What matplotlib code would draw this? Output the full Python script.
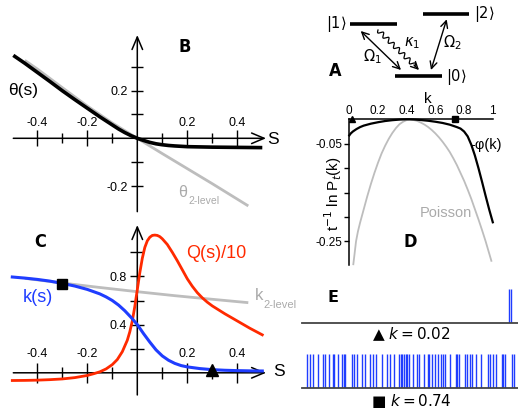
import numpy as np
import matplotlib
matplotlib.use("Agg")
import matplotlib.pyplot as plt
from matplotlib import font_manager

plt.rcParams['font.family'] = ['Liberation Sans', 'DejaVu Sans']
plt.rcParams['axes.unicode_minus'] = False
plt.rcParams['mathtext.fontset'] = 'dejavusans'

# ---------------- data ----------------
# Panel B: theta(s)
s_theta = [-0.496, -0.45, -0.4, -0.35, -0.3, -0.25, -0.2, -0.15, -0.1, -0.075, -0.05,
           -0.025, 0.0, 0.025, 0.05, 0.075, 0.1, 0.125, 0.15, 0.2, 0.25, 0.3, 0.4, 0.5]
theta = [0.347, 0.314, 0.276, 0.238, 0.199, 0.162, 0.126, 0.09, 0.056, 0.039, 0.024,
         0.011, 0.0, -0.009, -0.017, -0.023, -0.027, -0.03, -0.032, -0.035, -0.036,
         -0.037, -0.038, -0.039]
s_theta2 = [-0.45, -0.4, -0.3, -0.2, -0.1, 0.0, 0.1, 0.2, 0.3, 0.444]
theta2 = [0.326, 0.29, 0.212, 0.135, 0.064, 0.0, -0.064, -0.127, -0.19, -0.283]

# Panel C: k(s), k_2-level(s), Q(s)/10
s_k = [-0.5, -0.45, -0.4, -0.35, -0.3, -0.25, -0.2, -0.15, -0.125, -0.1, -0.075, -0.05,
       -0.025, 0.0, 0.025, 0.05, 0.075, 0.1, 0.125, 0.15, 0.175, 0.2, 0.25, 0.3, 0.35,
       0.4, 0.45, 0.5]
k_s = [0.795, 0.786, 0.775, 0.761, 0.742, 0.72, 0.692, 0.655, 0.63, 0.6, 0.562, 0.515,
       0.46, 0.40, 0.325, 0.255, 0.19, 0.14, 0.104, 0.078, 0.06, 0.049, 0.035, 0.026,
       0.021, 0.018, 0.016, 0.015]
s_k2 = [-0.45, -0.3, -0.15, 0.0, 0.15, 0.3, 0.444]
k2 = [0.784, 0.745, 0.708, 0.673, 0.64, 0.61, 0.582]
s_q = [-0.5, -0.45, -0.4, -0.35, -0.3, -0.25, -0.2, -0.175, -0.15, -0.125, -0.1, -0.08,
       -0.06, -0.04, -0.03, -0.02, -0.01, 0.0, 0.01, 0.02, 0.03, 0.04, 0.05, 0.06, 0.07,
       0.08, 0.09, 0.1, 0.12, 0.14, 0.16, 0.18, 0.2, 0.22, 0.24, 0.26, 0.28, 0.3, 0.35,
       0.4, 0.45, 0.5]
q_s = [-0.064, -0.063, -0.061, -0.057, -0.051, -0.04, -0.022, -0.008, 0.008, 0.032,
       0.068, 0.11, 0.175, 0.27, 0.34, 0.43, 0.55, 0.69, 0.83, 0.95, 1.04, 1.095, 1.125,
       1.14, 1.143, 1.14, 1.13, 1.112, 1.065, 1.0, 0.93, 0.855, 0.78, 0.718, 0.665, 0.622,
       0.586, 0.555, 0.49, 0.43, 0.37, 0.315]
sq_s, sq_k = [-0.3], [0.74]
tri_s, tri_k = [0.3], [0.026]

# Panel D: -phi(k) and Poisson
k_phi = [0.0, 0.01, 0.025, 0.05, 0.075, 0.1, 0.15, 0.2, 0.25, 0.3, 0.35, 0.4, 0.45,
         0.5, 0.55, 0.6, 0.65, 0.7, 0.725, 0.75, 0.775, 0.8, 0.825, 0.85, 0.875, 0.9,
         0.925, 0.95, 0.975, 1.0]
phi = [-0.033, -0.029, -0.025, -0.02, -0.016, -0.013, -0.009, -0.006, -0.0035, -0.0018,
       -0.0006, 0.0, -0.0004, -0.0015, -0.003, -0.005, -0.0075, -0.011, -0.0135, -0.016,
       -0.019, -0.025, -0.035, -0.052, -0.074, -0.1, -0.128, -0.157, -0.185, -0.211]
k_pois = [0.028, 0.035, 0.047, 0.06, 0.075, 0.1, 0.125, 0.15, 0.175, 0.2, 0.225, 0.25,
          0.275, 0.3, 0.325, 0.35, 0.375, 0.4, 0.42, 0.44, 0.47, 0.5, 0.525, 0.55, 0.575,
          0.6, 0.625, 0.65, 0.675, 0.7, 0.725, 0.75, 0.775, 0.8, 0.825, 0.85, 0.875, 0.9,
          0.925, 0.95, 0.97, 0.99]
pois = [-0.297, -0.28, -0.25, -0.23, -0.212, -0.185, -0.158, -0.133, -0.11, -0.089,
        -0.07, -0.054, -0.04, -0.028, -0.018, -0.01, -0.005, -0.0015, 0.0, -0.001, -0.003,
        -0.007, -0.011, -0.016, -0.022, -0.029, -0.037, -0.046, -0.056, -0.067, -0.08,
        -0.094, -0.11, -0.126, -0.144, -0.163, -0.184, -0.205, -0.227, -0.25, -0.27,
        -0.29]
d_markers_k = [0.02, 0.74]
d_markers_y = [0.0, 0.0]

# Panel E: spike trains (time units)
spikes_low = [207.0, 208.8]
spikes_high = [5, 8, 10.7, 16.3, 21.3, 22.7, 26.7, 31.3, 32.3, 36.3, 40.3, 41.7, 43,
               50, 52.3, 54.7, 60, 63.3, 67.7, 70.7, 74, 80.3, 85.3, 88, 91.7, 97.3,
               98.7, 100.3, 102, 103.5, 104.7, 106.5, 111.3, 115.3, 116.7, 122, 125.7,
               127.3, 129.7, 133, 136.3, 139, 140.7, 142.7, 148.3, 154, 155.3, 157.3,
               163, 165.3, 168.3, 170.3, 173.7, 179, 185.7, 188, 190.7, 194.3, 199.7,
               201.3, 203, 209.7, 212]

# ---------------- figure ----------------
W, H = 518, 412
fig = plt.figure(figsize=(W / 100, H / 100), dpi=100)

RED = '#ff2a00'
BLUE = '#1f3dff'
GRAY = '#bdbdbd'

# heavy condensed face for panel letters if one is installed
_names = {f.name for f in font_manager.fontManager.ttflist}
_cond = [f for f in font_manager.fontManager.ttflist
         if f.weight in ('bold', 700, 'heavy', 800, 900) and
         (f.stretch in ('condensed', 'semi-condensed', 'extra-condensed') or
          'Narrow' in f.name or 'Condensed' in f.name)]
if _cond:
    LBL_FONT = dict(fontproperties=font_manager.FontProperties(fname=_cond[0].fname,
                                                               size=13))
else:
    LBL_FONT = dict(family=['Liberation Sans', 'DejaVu Sans'], fontweight='bold',
                    fontsize=12.5)
LBL = dict(ha='center', va='center', **LBL_FONT)


def px_axes(left, right, top, bottom, x0, xs, y0, ys):
    ax = fig.add_axes([left / W, 1 - bottom / H, (right - left) / W, (bottom - top) / H])
    ax.set_xlim((left - x0) / xs, (right - x0) / xs)
    ax.set_ylim((y0 - bottom) / ys, (y0 - top) / ys)
    ax.patch.set_visible(False)
    return ax


def arrow_axes(ax, x0, x1, y0, y1):
    ap = dict(arrowstyle='->,head_length=0.9,head_width=0.38', color='k', lw=1.1,
              shrinkA=0, shrinkB=0)
    ax.annotate('', xy=(x1, 0), xytext=(x0, 0), arrowprops=ap)
    ax.annotate('', xy=(0, y1), xytext=(0, y0), arrowprops=ap)


def cross_axes(ax, yt, yt_minor, ylabels, xlen, xlen_minor, ylen):
    for sp in ax.spines.values():
        sp.set_color('none')
    ax.spines['top'].set_position(('data', 0))
    ax.spines['left'].set_position(('data', 0))
    ax.xaxis.set_ticks_position('top')
    ax.yaxis.set_ticks_position('left')
    ax.set_xticks([-0.4, -0.2, 0.2, 0.4])
    ax.set_xticklabels(['-0.4', '-0.2', '0.2', '0.4'])
    ax.set_xticks([-0.3, -0.1, 0.1, 0.3], minor=True)
    ax.set_yticks(yt)
    ax.set_yticklabels(ylabels)
    ax.set_yticks(yt_minor, minor=True)
    ax.tick_params(axis='x', which='major', direction='inout', length=xlen, width=1,
                   labelsize=9, pad=1.5)
    ax.tick_params(axis='x', which='minor', direction='inout', length=xlen_minor, width=1)
    ax.tick_params(axis='y', which='both', direction='inout', length=ylen, width=1,
                   labelsize=9, pad=2.5)


# ---- Panel B ----
axB = px_axes(0, 300, 20, 214, 137.3, 250, 138.3, 239)
cross_axes(axB, [-0.2, 0.2], [-0.1, 0.1, 0.3], ['-0.2', '0.2'], 11, 7, 9)
arrow_axes(axB, -0.496, 0.515, -0.307, 0.432)
axB.plot(s_theta2, theta2, color=GRAY, lw=2.0, solid_capstyle='butt', zorder=2)
axB.plot(s_theta, theta, color='k', lw=2.6, solid_capstyle='butt',
         solid_joinstyle='round', zorder=3)

# ---- Panel C ----
axC = px_axes(0, 300, 214, 405, 137.3, 250, 372.8, 120.5)
cross_axes(axC, [0.4, 0.8], [0.2, 0.6, 1.0], ['0.4', '0.8'], 15, 9, 9.5)
arrow_axes(axC, -0.496, 0.515, -0.184, 1.226)
axC.plot(s_k2, k2, color=GRAY, lw=2.0, solid_capstyle='butt', zorder=2)
axC.plot(s_q, q_s, color=RED, lw=2.0, solid_joinstyle='round', zorder=3)
axC.plot(s_k, k_s, color=BLUE, lw=2.2, solid_joinstyle='round', zorder=4)
axC.plot(sq_s, sq_k, 's', color='k', ms=7.5, zorder=5)
axC.plot(tri_s, tri_k, '^', color='k', ms=8, zorder=5, clip_on=False)

# ---- Panel D ----
axD = px_axes(349.3, 500, 119.3, 265, 349.3, 143.5, 119.3, 488)
for side in ['right', 'bottom']:
    axD.spines[side].set_visible(False)
axD.spines['left'].set_linewidth(1.1)
axD.spines['top'].set_linewidth(1.1)
axD.spines['top'].set_bounds(0, 1)
axD.xaxis.set_ticks_position('top')
axD.set_xticks([0, 0.2, 0.4, 0.6, 0.8, 1.0])
axD.set_xticklabels(['0', '0.2', '0.4', '0.6', '0.8', '1'])
axD.set_yticks([-0.25, -0.2, -0.15, -0.1, -0.05])
axD.set_yticklabels(['-0.25', '', '', '', '-0.05'])
axD.tick_params(axis='x', direction='in', length=0, labelsize=8.5, pad=1.5)
axD.tick_params(axis='y', direction='out', length=3.5, width=1, labelsize=8.5, pad=1.5)
axD.plot(k_pois, pois, color=GRAY, lw=1.3, clip_on=False, solid_joinstyle='round',
         zorder=2)
axD.plot(k_phi, phi, color='k', lw=1.6, clip_on=False, solid_joinstyle='round', zorder=3)
axD.plot(d_markers_k[:1], d_markers_y[:1], '^', color='k', ms=5, clip_on=False, zorder=4)
axD.plot(d_markers_k[1:], d_markers_y[1:], 's', color='k', ms=4.5, clip_on=False, zorder=4)

# ---- Panel E ----
for (top, bot, spikes) in [(289.3, 322.7, spikes_low), (354, 387.7, spikes_high)]:
    axE = px_axes(302, 518, top, bot, 302, 1, bot, bot - top)
    axE.set_xlim(0, 216)
    axE.set_ylim(0, 1)
    axE.vlines(spikes, 0, 1, color=BLUE, lw=1.0)
    for side in ['top', 'right', 'left']:
        axE.spines[side].set_visible(False)
    axE.spines['bottom'].set_color('#444444')
    axE.spines['bottom'].set_linewidth(1.3)
    axE.set_xticks([])
    axE.set_yticks([])

# ---------------- overlay: diagram & labels (pixel coords) ----------------
ov = fig.add_axes([0, 0, 1, 1])
ov.set_xlim(0, W)
ov.set_ylim(H, 0)
ov.axis('off')
ov.patch.set_visible(False)

# Panel A schematic
levels = {'1': (350, 397, 24.3), '2': (423, 469, 14.3), '0': (395, 442, 76)}
for name, (xa, xb, yl) in levels.items():
    ov.plot([xa, xb], [yl, yl], color='k', lw=2.6, solid_capstyle='butt')
ov.text(336, 24, r'$|1\rangle$', fontsize=10.5, ha='center', va='center')
ov.text(484, 14, r'$|2\rangle$', fontsize=10.5, ha='center', va='center')
ov.text(456, 77, r'$|0\rangle$', fontsize=10.5, ha='center', va='center')
ap2 = dict(arrowstyle='<->,head_length=0.5,head_width=0.25', color='k', lw=1.0,
           shrinkA=0, shrinkB=0)
ov.annotate('', xy=(401, 70), xytext=(360.7, 31), arrowprops=ap2)
ov.annotate('', xy=(431, 70), xytext=(446.7, 19.3), arrowprops=ap2)
# wavy decay arrow
p0, p1 = np.array([378.0, 30.0]), np.array([415.0, 66.0])
d = p1 - p0
L = np.hypot(*d)
u = d / L
nrm = np.array([-u[1], u[0]])
tt = np.linspace(0, 1, 300)
wav = 2.2 * np.sin(2 * np.pi * 7 * tt)
pts = p0[None, :] + tt[:, None] * d[None, :] + wav[:, None] * nrm[None, :]
ov.plot(pts[:, 0], pts[:, 1], color='k', lw=0.9)
ov.annotate('', xy=(419, 70), xytext=(414, 65),
            arrowprops=dict(arrowstyle='->,head_length=0.5,head_width=0.25', color='k',
                            lw=1.0, shrinkA=0, shrinkB=0))
ov.text(372, 57, r'$\Omega_1$', fontsize=10.5, ha='center', va='center')
ov.text(412, 43, r'$\kappa_1$', fontsize=10.5, ha='center', va='center')
ov.text(452, 43, r'$\Omega_2$', fontsize=10.5, ha='center', va='center')
ov.text(335, 71, 'A', **LBL)

# Panel B labels
ov.text(23, 90, 'θ(s)', fontsize=12.5, ha='center', va='center')
ov.text(185, 47, 'B', **LBL)
ov.text(273, 139, 'S', fontsize=12.5, ha='center', va='center')
ov.text(183, 192, 'θ', fontsize=11.5, color='#aaaaaa', ha='center', va='center')
ov.text(188, 201, '2-level', fontsize=7.5, color='#aaaaaa', ha='left', va='center')

# Panel C labels
ov.text(40, 242, 'C', **LBL)
ov.text(216, 254, 'Q(s)/10', fontsize=13, color=RED, ha='center', va='center')
ov.text(38, 298, 'k(s)', fontsize=13, color=BLUE, ha='center', va='center')
ov.text(255, 296, 'k', fontsize=12, color='#aaaaaa', ha='left', va='center')
ov.text(263, 305, '2-level', fontsize=8, color='#aaaaaa', ha='left', va='center')
ov.text(279, 372, 'S', fontsize=12.5, ha='center', va='center')

# Panel D labels
ov.text(428, 99, 'k', fontsize=11, ha='center', va='center')
ov.text(486, 145, '-φ(k)', fontsize=10.5, ha='center', va='center')
ov.text(446, 213, 'Poisson', fontsize=10.5, color='#aaaaaa', ha='center', va='center')
ov.text(410, 242, 'D', **LBL)
ov.text(333, 194, r't$^{-1}$ ln P$_t$(k)', fontsize=11, rotation=90, ha='center',
        va='center')

# Panel E labels
ov.text(333, 298, 'E', family='DejaVu Sans', fontweight='bold', fontsize=11.5,
        ha='center', va='center')
ov.text(411, 334, '▲ $k = 0.02$', family='DejaVu Sans', fontsize=11, ha='center',
        va='center')
ov.text(411, 401, '■ $k = 0.74$', family='DejaVu Sans', fontsize=11, ha='center',
        va='center')

fig.savefig('out.png', dpi=100)
